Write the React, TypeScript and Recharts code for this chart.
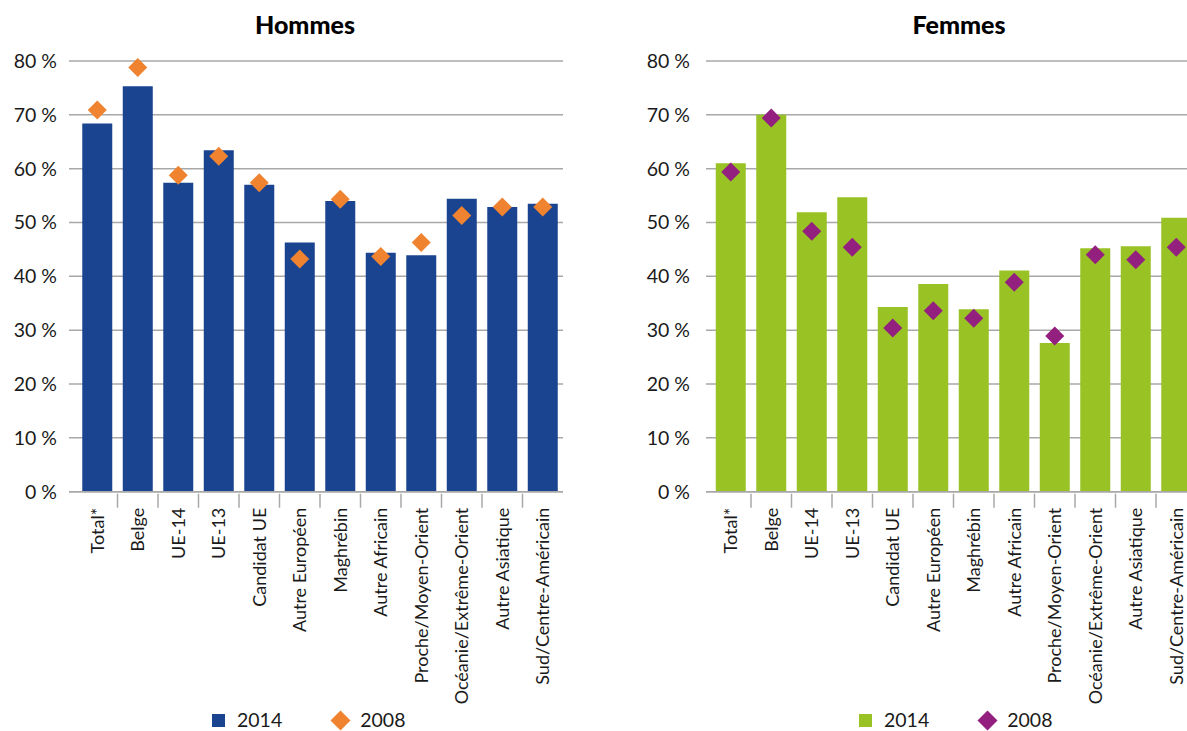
import { ComposedChart, Bar, Line, XAxis, YAxis, CartesianGrid } from "recharts";

const categories = [
  "Total*", "Belge", "UE-14", "UE-13", "Candidat UE", "Autre Européen",
  "Maghrébin", "Autre Africain", "Proche/Moyen-Orient", "Océanie/Extrême-Orient",
  "Autre Asiatique", "Sud/Centre-Américain",
];
const hommes2014 = [68.4, 75.3, 57.4, 63.4, 57.0, 46.3, 54.0, 44.4, 43.9, 54.4, 52.9, 53.5];
const hommes2008 = [70.9, 78.8, 58.8, 62.3, 57.4, 43.2, 54.3, 43.7, 46.3, 51.3, 52.9, 52.9];
const femmes2014 = [61.0, 70.0, 51.9, 54.7, 34.3, 38.6, 33.9, 41.1, 27.6, 45.2, 45.6, 50.9];
const femmes2008 = [59.4, 69.4, 48.4, 45.4, 30.4, 33.6, 32.2, 38.9, 28.9, 44.0, 43.1, 45.4];
const yTicks = [0, 10, 20, 30, 40, 50, 60, 70, 80];
const legendLabels = ["2014", "2008"];

const FONT = "Lato, 'Open Sans', sans-serif";
const TEXT = "#1a1a1a";
const GRID = "#a8a8a8";
const BAND = 40.5;

const Diamond = (props: any) => {
  const { cx, cy, fill } = props;
  if (cx == null || cy == null) return null;
  const r = 9.5;
  return (
    <polygon
      points={`${cx},${cy - r} ${cx + r},${cy} ${cx},${cy + r} ${cx - r},${cy}`}
      fill={fill}
    />
  );
};

const CatTick = (props: any) => {
  const { x, y, payload, index } = props;
  return (
    <g>
      {index < categories.length - 1 && (
        <line x1={x + BAND / 2} x2={x + BAND / 2} y1={y} y2={y + 14} stroke={GRID} strokeWidth={1.5} />
      )}
      <text
        transform={`translate(${x},${y + 14}) rotate(-90)`}
        textAnchor="end"
        dy="0.36em"
        fill={TEXT}
        fontSize={18}
        fontFamily={FONT}
      >
        {payload.value}
      </text>
    </g>
  );
};

function Panel({
  title, v2014, v2008, c2014, c2008, width, marginRight, yWidth, tickMargin, padLeft, titleX,
}: {
  title: string; v2014: number[]; v2008: number[]; c2014: string; c2008: string;
  width: number; marginRight: number; yWidth: number; tickMargin: number; padLeft: number; titleX: number;
}) {
  const data = categories.map((c, i) => ({ name: c, a: v2014[i], b: v2008[i] }));
  return (
    <div style={{ position: "relative", width, height: 731 }}>
      <div
        style={{
          position: "absolute", left: titleX, top: 9, transform: "translateX(-50%)",
          fontFamily: FONT, fontWeight: 900, fontSize: 25, color: "#000", whiteSpace: "nowrap",
        }}
      >
        {title}
      </div>
      <ComposedChart
        width={width}
        height={731}
        data={data}
        margin={{ top: 61, right: marginRight, left: 0, bottom: 39.3 }}
        barCategoryGap="13%"
      >
        <CartesianGrid vertical={false} stroke={GRID} strokeWidth={1.5} />
        <XAxis
          dataKey="name"
          interval={0}
          height={200}
          tickSize={0}
          tickLine={false}
          axisLine={{ stroke: GRID, strokeWidth: 1.5 }}
          padding={{ left: padLeft, right: 0 }}
          tick={<CatTick />}
        />
        <YAxis
          domain={[0, 80]}
          ticks={yTicks}
          width={yWidth}
          axisLine={false}
          tickLine={false}
          tickMargin={tickMargin}
          tick={{ fill: TEXT, fontSize: 19.5, fontFamily: FONT }}
          tickFormatter={(v) => `${v} %`}
        />
        <Bar dataKey="a" fill={c2014} isAnimationActive={false} />
        <Line
          dataKey="b"
          stroke="none"
          fill={c2008}
          dot={<Diamond fill={c2008} />}
          activeDot={false}
          isAnimationActive={false}
        />
      </ComposedChart>
    </div>
  );
}

function LegendRow({ left, c2014, c2008 }: { left: number; c2014: string; c2008: string }) {
  const txt = { fontFamily: FONT, fontSize: 19.5, color: TEXT, lineHeight: "20px" } as const;
  return (
    <div style={{ position: "absolute", left, top: 710, display: "flex", alignItems: "center", height: 20 }}>
      <div style={{ width: 13, height: 13, background: c2014, marginRight: 12 }} />
      <span style={txt}>{legendLabels[0]}</span>
      <svg width={21} height={21} style={{ marginLeft: 48, marginRight: 9 }}>
        <polygon points="10.5,0.5 20.5,10.5 10.5,20.5 0.5,10.5" fill={c2008} />
      </svg>
      <span style={txt}>{legendLabels[1]}</span>
    </div>
  );
}

export default function App() {
  return (
    <div
      style={{
        position: "fixed", left: 0, top: 0, width: 1187, height: 731,
        overflow: "hidden", background: "#fff",
      }}
    >
      <div style={{ position: "absolute", left: 0, top: 0 }}>
        <Panel
          title="Hommes" v2014={hommes2014} v2008={hommes2008}
          c2014="#1b4490" c2008="#f0832f"
          width={590} marginRight={27} yWidth={69} tickMargin={6} padLeft={8} titleX={305}
        />
      </div>
      <div style={{ position: "absolute", left: 600, top: 0 }}>
        <Panel
          title="Femmes" v2014={femmes2014} v2008={femmes2008}
          c2014="#99c224" c2008="#931f7f"
          width={620} marginRight={23.5} yWidth={106} tickMargin={10} padLeft={4.5} titleX={359}
        />
      </div>
      <LegendRow left={212} c2014="#1b4490" c2008="#f0832f" />
      <LegendRow left={859} c2014="#99c224" c2008="#931f7f" />
    </div>
  );
}
